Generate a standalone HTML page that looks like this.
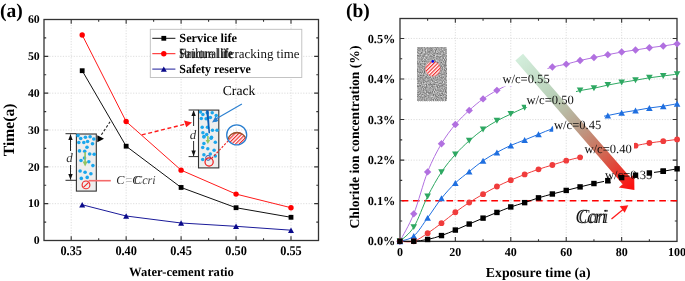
<!DOCTYPE html><html><head><meta charset="utf-8"><style>html,body{margin:0;padding:0;background:#fff;width:685px;height:281px;overflow:hidden}svg{display:block;will-change:transform;text-rendering:geometricPrecision}</style></head><body>
<svg width="685" height="281" viewBox="0 0 685 281" font-family='"Liberation Serif", serif'>
<defs><pattern id="hatch" width="2.6" height="2.6" patternUnits="userSpaceOnUse" patternTransform="rotate(-45)"><rect width="2.6" height="2.6" fill="#fff"/><rect width="2.6" height="1.2" fill="#f03030"/></pattern><filter id="noise" x="0" y="0" width="100%" height="100%" color-interpolation-filters="sRGB"><feTurbulence type="fractalNoise" baseFrequency="0.9" numOctaves="2" seed="3" result="n"/><feColorMatrix in="n" type="matrix" values="0.75 0 0 0 0.26  0.75 0 0 0 0.26  0.75 0 0 0 0.26  0 0 0 0 1"/></filter><linearGradient id="arrg" gradientUnits="userSpaceOnUse" x1="519" y1="57" x2="634" y2="190"><stop offset="0" stop-color="#d3eedc"/><stop offset="0.3" stop-color="#b9d0b8"/><stop offset="0.5" stop-color="#b9a590"/><stop offset="0.72" stop-color="#cf6a55"/><stop offset="1" stop-color="#ff0a0a"/></linearGradient><clipPath id="magc"><circle cx="236.7" cy="134.9" r="9.6"/></clipPath></defs>
<text x="0" y="17.2" font-size="19.5" font-weight="bold">(a)</text>
<line x1="71.2" y1="19.5" x2="71.2" y2="240.5" stroke="#d4d4d4" stroke-width="0.8" stroke-dasharray="1.2 1.5"/>
<line x1="126.15" y1="19.5" x2="126.15" y2="240.5" stroke="#d4d4d4" stroke-width="0.8" stroke-dasharray="1.2 1.5"/>
<line x1="181.1" y1="19.5" x2="181.1" y2="240.5" stroke="#d4d4d4" stroke-width="0.8" stroke-dasharray="1.2 1.5"/>
<line x1="236.05" y1="19.5" x2="236.05" y2="240.5" stroke="#d4d4d4" stroke-width="0.8" stroke-dasharray="1.2 1.5"/>
<line x1="291" y1="19.5" x2="291" y2="240.5" stroke="#d4d4d4" stroke-width="0.8" stroke-dasharray="1.2 1.5"/>
<line x1="44" y1="203.67" x2="318.5" y2="203.67" stroke="#d4d4d4" stroke-width="0.8" stroke-dasharray="1.2 1.5"/>
<line x1="44" y1="166.83" x2="318.5" y2="166.83" stroke="#d4d4d4" stroke-width="0.8" stroke-dasharray="1.2 1.5"/>
<line x1="44" y1="130" x2="318.5" y2="130" stroke="#d4d4d4" stroke-width="0.8" stroke-dasharray="1.2 1.5"/>
<line x1="44" y1="93.17" x2="318.5" y2="93.17" stroke="#d4d4d4" stroke-width="0.8" stroke-dasharray="1.2 1.5"/>
<line x1="44" y1="56.34" x2="318.5" y2="56.34" stroke="#d4d4d4" stroke-width="0.8" stroke-dasharray="1.2 1.5"/>
<path d="M71.2 240.5V236.2M71.2 19.5V23.8M98.68 240.5V238.3M98.68 19.5V21.7M126.15 240.5V236.2M126.15 19.5V23.8M153.63 240.5V238.3M153.63 19.5V21.7M181.1 240.5V236.2M181.1 19.5V23.8M208.58 240.5V238.3M208.58 19.5V21.7M236.05 240.5V236.2M236.05 19.5V23.8M263.53 240.5V238.3M263.53 19.5V21.7M291 240.5V236.2M291 19.5V23.8M44 222.08H46.2M318.5 222.08H316.3M44 203.67H48.3M318.5 203.67H314.2M44 185.25H46.2M318.5 185.25H316.3M44 166.83H48.3M318.5 166.83H314.2M44 148.42H46.2M318.5 148.42H316.3M44 130H48.3M318.5 130H314.2M44 111.58H46.2M318.5 111.58H316.3M44 93.17H48.3M318.5 93.17H314.2M44 74.75H46.2M318.5 74.75H316.3M44 56.34H48.3M318.5 56.34H314.2M44 37.92H46.2M318.5 37.92H316.3" stroke="#333" stroke-width="1.1" fill="none"/>
<rect x="44" y="19.5" width="274.5" height="221" fill="none" stroke="#333" stroke-width="1.3"/>
<text x="71.2" y="255.2" font-size="13.2" font-weight="bold" text-anchor="middle" textLength="21.5" lengthAdjust="spacingAndGlyphs">0.35</text>
<text x="126.15" y="255.2" font-size="13.2" font-weight="bold" text-anchor="middle" textLength="21.5" lengthAdjust="spacingAndGlyphs">0.40</text>
<text x="181.1" y="255.2" font-size="13.2" font-weight="bold" text-anchor="middle" textLength="21.5" lengthAdjust="spacingAndGlyphs">0.45</text>
<text x="236.05" y="255.2" font-size="13.2" font-weight="bold" text-anchor="middle" textLength="21.5" lengthAdjust="spacingAndGlyphs">0.50</text>
<text x="291" y="255.2" font-size="13.2" font-weight="bold" text-anchor="middle" textLength="21.5" lengthAdjust="spacingAndGlyphs">0.55</text>
<text x="39.7" y="244.2" font-size="11.8" font-weight="bold" text-anchor="end">0</text>
<text x="39.7" y="207.37" font-size="11.8" font-weight="bold" text-anchor="end">10</text>
<text x="39.7" y="170.53" font-size="11.8" font-weight="bold" text-anchor="end">20</text>
<text x="39.7" y="133.7" font-size="11.8" font-weight="bold" text-anchor="end">30</text>
<text x="39.7" y="96.87" font-size="11.8" font-weight="bold" text-anchor="end">40</text>
<text x="39.7" y="60.04" font-size="11.8" font-weight="bold" text-anchor="end">50</text>
<text x="39.7" y="23.2" font-size="11.8" font-weight="bold" text-anchor="end">60</text>
<text x="181.5" y="275.5" font-size="12.6" font-weight="bold" text-anchor="middle">Water-cement ratio</text>
<text transform="translate(14.2,129.9) rotate(-90)" font-size="15.6" font-weight="bold" text-anchor="middle">Time(a)</text>
<polyline points="82.19,70.7 126.15,146.21 181.1,187.46 236.05,207.72 291,217.3" fill="none" stroke="#111" stroke-width="1.0"/>
<polyline points="82.19,34.97 126.15,121.53 181.1,170.15 236.05,194.09 291,207.72" fill="none" stroke="#ff1a1a" stroke-width="1.0"/>
<polyline points="82.19,204.77 126.15,216.01 181.1,223 236.05,226.32 291,230.19" fill="none" stroke="#1a1a99" stroke-width="1.0"/>
<rect x="79.79" y="68.3" width="4.8" height="4.8" fill="#000"/>
<circle cx="82.19" cy="34.97" r="2.7" fill="#ff0000"/>
<path d="M79.19 207.47L85.19 207.47L82.19 202.07Z" fill="#0a0a8a"/>
<rect x="123.75" y="143.81" width="4.8" height="4.8" fill="#000"/>
<circle cx="126.15" cy="121.53" r="2.7" fill="#ff0000"/>
<path d="M123.15 218.71L129.15 218.71L126.15 213.31Z" fill="#0a0a8a"/>
<rect x="178.7" y="185.06" width="4.8" height="4.8" fill="#000"/>
<circle cx="181.1" cy="170.15" r="2.7" fill="#ff0000"/>
<path d="M178.1 225.7L184.1 225.7L181.1 220.3Z" fill="#0a0a8a"/>
<rect x="233.65" y="205.32" width="4.8" height="4.8" fill="#000"/>
<circle cx="236.05" cy="194.09" r="2.7" fill="#ff0000"/>
<path d="M233.05 229.02L239.05 229.02L236.05 223.62Z" fill="#0a0a8a"/>
<rect x="288.6" y="214.9" width="4.8" height="4.8" fill="#000"/>
<circle cx="291" cy="207.72" r="2.7" fill="#ff0000"/>
<path d="M288 232.89L294 232.89L291 227.49Z" fill="#0a0a8a"/>
<rect x="150.3" y="29.3" width="151.5" height="48.2" fill="#fff" stroke="#bdbdbd" stroke-width="0.9"/>
<line x1="152.3" y1="38.3" x2="175.4" y2="38.3" stroke="#111" stroke-width="1"/>
<rect x="161.4" y="35.9" width="4.8" height="4.8" fill="#000"/>
<line x1="152.3" y1="53.7" x2="175.4" y2="53.7" stroke="#ff1a1a" stroke-width="1"/>
<circle cx="163.8" cy="53.7" r="2.7" fill="#ff0000"/>
<line x1="152.3" y1="69.1" x2="175.4" y2="69.1" stroke="#1a1a99" stroke-width="1"/>
<path d="M160.8 71.8L166.8 71.8L163.8 66.4Z" fill="#0a0a8a"/>
<text x="179.3" y="42.2" font-size="12.3" font-weight="bold">Service life</text>
<text x="179.3" y="57.9" font-size="14" font-weight="bold" fill="#111" textLength="53" lengthAdjust="spacingAndGlyphs" opacity="0.9">Structural life</text>
<text x="179.3" y="57.9" font-size="14" fill="#111" textLength="54" lengthAdjust="spacingAndGlyphs">Failure life</text>
<text x="228.8" y="57.8" font-size="12.9" fill="#111" textLength="70.8" lengthAdjust="spacingAndGlyphs">cracking time</text>
<text x="179.3" y="73.1" font-size="12.3" font-weight="bold" textLength="71.5" lengthAdjust="spacingAndGlyphs">Safety reserve</text>
<rect x="76.4" y="134" width="19.9" height="57.1" fill="#eeeeee" stroke="#333" stroke-width="1.1"/>
<circle cx="78" cy="135.6" r="1.8" fill="#1aa6ec"/>
<circle cx="80.7" cy="138.5" r="1.8" fill="#1aa6ec"/>
<circle cx="85.4" cy="137.2" r="1.8" fill="#1aa6ec"/>
<circle cx="90.1" cy="136.8" r="1.8" fill="#1aa6ec"/>
<circle cx="93.8" cy="139" r="1.8" fill="#1aa6ec"/>
<circle cx="78.8" cy="142.5" r="1.8" fill="#1aa6ec"/>
<circle cx="83.8" cy="142.5" r="1.8" fill="#1aa6ec"/>
<circle cx="87.6" cy="141.5" r="1.8" fill="#1aa6ec"/>
<circle cx="92.5" cy="143.7" r="1.8" fill="#1aa6ec"/>
<circle cx="87" cy="147.2" r="1.8" fill="#1aa6ec"/>
<circle cx="79.5" cy="150.9" r="1.8" fill="#1aa6ec"/>
<circle cx="84.7" cy="151.2" r="1.8" fill="#1aa6ec"/>
<circle cx="89.7" cy="154" r="1.8" fill="#1aa6ec"/>
<circle cx="94.2" cy="154.3" r="1.8" fill="#1aa6ec"/>
<circle cx="84.5" cy="158" r="1.8" fill="#1aa6ec"/>
<circle cx="81" cy="160.5" r="1.8" fill="#1aa6ec"/>
<circle cx="88.8" cy="161.8" r="1.8" fill="#1aa6ec"/>
<circle cx="92.9" cy="165.6" r="1.8" fill="#1aa6ec"/>
<circle cx="80.1" cy="171" r="1.8" fill="#1aa6ec"/>
<circle cx="85.1" cy="172.2" r="1.8" fill="#1aa6ec"/>
<circle cx="90.9" cy="173.7" r="1.8" fill="#1aa6ec"/>
<circle cx="81.3" cy="178.4" r="1.8" fill="#1aa6ec"/>
<circle cx="87.2" cy="177.4" r="1.8" fill="#1aa6ec"/>
<path d="M85.1 152V163" stroke="#8fc462" stroke-width="1.6"/><path d="M82.6 161.5L87.6 161.5L85.1 166.5Z" fill="#8fc462"/>
<circle cx="86" cy="184.9" r="3.9" fill="none" stroke="#f02020" stroke-width="1.1"/><path d="M83.4 187.4L88.6 182.4" stroke="#f02020" stroke-width="1.1"/>
<path d="M88.6 180.7H110.8" stroke="#f46a6a" stroke-width="1.6"/>
<path d="M65.5 133.7H76.2M65.5 180.3H76.2M70.5 134.5V151M70.5 165V179.5" stroke="#111" stroke-width="0.9" fill="none"/>
<path d="M68.3 140L70.5 134.3L72.7 140Z M68.3 174L70.5 179.7L72.7 174Z" fill="#111"/>
<text x="69.5" y="162" font-size="13" font-style="italic" fill="#333" text-anchor="middle">d</text>
<path d="M101.4 134.8L110 121.9" stroke="#222" stroke-width="1.1" stroke-dasharray="2.6 1.8"/>
<path d="M97.3 135.3L97.3 142.2L104 138.7Z" fill="#000"/>
<text x="116.3" y="184" font-size="12.2" font-style="italic" fill="#222">C</text>
<text x="125.5" y="184" font-size="12.2" fill="#888">=</text>
<text x="132.3" y="184" font-size="12.2" font-style="italic" fill="#222">C</text>
<text x="134" y="184" font-size="12.2" font-style="italic" fill="#222" opacity="0.85">Ccri</text>
<rect x="198.5" y="110.1" width="20.3" height="57.8" fill="#eeeeee" stroke="#333" stroke-width="1.1"/>
<circle cx="200.5" cy="112" r="1.75" fill="#1aa6ec"/>
<circle cx="202.9" cy="114.6" r="1.75" fill="#1aa6ec"/>
<circle cx="207.2" cy="112.8" r="1.75" fill="#1aa6ec"/>
<circle cx="212.2" cy="112.8" r="1.75" fill="#1aa6ec"/>
<circle cx="216.2" cy="115.5" r="1.75" fill="#1aa6ec"/>
<circle cx="201.3" cy="118.4" r="1.75" fill="#1aa6ec"/>
<circle cx="206.1" cy="118.7" r="1.75" fill="#1aa6ec"/>
<circle cx="210.4" cy="117.6" r="1.75" fill="#1aa6ec"/>
<circle cx="215.7" cy="120.3" r="1.75" fill="#1aa6ec"/>
<circle cx="202.2" cy="127.2" r="1.75" fill="#1aa6ec"/>
<circle cx="207.5" cy="127.2" r="1.75" fill="#1aa6ec"/>
<circle cx="212.5" cy="130.2" r="1.75" fill="#1aa6ec"/>
<circle cx="217" cy="130.2" r="1.75" fill="#1aa6ec"/>
<circle cx="202.9" cy="132.7" r="1.75" fill="#1aa6ec"/>
<circle cx="206.7" cy="134.4" r="1.75" fill="#1aa6ec"/>
<circle cx="204" cy="136.6" r="1.75" fill="#1aa6ec"/>
<circle cx="211.5" cy="137.3" r="1.75" fill="#1aa6ec"/>
<circle cx="203.9" cy="137" r="1.75" fill="#1aa6ec"/>
<circle cx="211.1" cy="138.2" r="1.75" fill="#1aa6ec"/>
<circle cx="203.9" cy="143.5" r="1.75" fill="#1aa6ec"/>
<circle cx="215.3" cy="142.3" r="1.75" fill="#1aa6ec"/>
<circle cx="202.7" cy="147.5" r="1.75" fill="#1aa6ec"/>
<circle cx="207.8" cy="148.7" r="1.75" fill="#1aa6ec"/>
<circle cx="214.1" cy="150.3" r="1.75" fill="#1aa6ec"/>
<circle cx="203.9" cy="154.7" r="1.75" fill="#1aa6ec"/>
<circle cx="210.3" cy="154.1" r="1.75" fill="#1aa6ec"/>
<circle cx="215.3" cy="156" r="1.75" fill="#1aa6ec"/>
<circle cx="202.7" cy="159.6" r="1.75" fill="#1aa6ec"/>
<path d="M207.9 136V141" stroke="#8fc462" stroke-width="1.6"/><path d="M205.6 140L210.2 140L207.9 144Z" fill="#8fc462"/>
<path d="M206.1 110.3L208.5 110.3L210 133.3L208.6 133.3Z" fill="#0b5cb5"/>
<path d="M241.9 103.9L215 119.5" stroke="#2a7fd0" stroke-width="1.1"/><path d="M212 122.4L215.4 116.6L218.3 121Z" fill="#2a7fd0"/>
<text x="222.8" y="95.2" font-size="13.6">Crack</text>
<circle cx="208.1" cy="157.9" r="2.4" fill="none" stroke="#1a3a9a" stroke-width="0.9"/>
<circle cx="209.1" cy="162" r="4.1" fill="none" stroke="#f01818" stroke-width="1.2"/>
<path d="M211.5 158.5L229 140" stroke="#f02020" stroke-width="1.1" stroke-dasharray="2.2 1.5"/>
<g clip-path="url(#magc)"><circle cx="237" cy="141.5" r="9.6" fill="url(#hatch)"/><path d="M227.8 139.5A9.6 9.6 0 0 1 246.2 139.5" fill="none" stroke="#a0522d" stroke-width="1.6"/></g>
<circle cx="236.7" cy="134.9" r="10" fill="none" stroke="#2a7fd0" stroke-width="1.3"/>
<path d="M188.6 110H198.3M188.6 156.6H198.3M193.6 111V126M193.6 141V156" stroke="#111" stroke-width="0.9" fill="none"/>
<path d="M191.4 116L193.6 110.3L195.8 116Z M191.4 150.6L193.6 156.3L195.8 150.6Z" fill="#111"/>
<text x="193" y="138.6" font-size="13" font-style="italic" fill="#333" text-anchor="middle">d</text>
<path d="M141.8 134.9L185 124.2" stroke="#ff1a1a" stroke-width="1.4" stroke-dasharray="4 2.6"/>
<path d="M184 120.5L186.2 127.2L192 122.5Z" fill="#ff1a1a"/>
<text x="346" y="17.2" font-size="19.5" font-weight="bold">(b)</text>
<line x1="455.34" y1="18.5" x2="455.34" y2="241.4" stroke="#d4d4d4" stroke-width="0.8" stroke-dasharray="1.2 1.5"/>
<line x1="510.78" y1="18.5" x2="510.78" y2="241.4" stroke="#d4d4d4" stroke-width="0.8" stroke-dasharray="1.2 1.5"/>
<line x1="566.22" y1="18.5" x2="566.22" y2="241.4" stroke="#d4d4d4" stroke-width="0.8" stroke-dasharray="1.2 1.5"/>
<line x1="621.66" y1="18.5" x2="621.66" y2="241.4" stroke="#d4d4d4" stroke-width="0.8" stroke-dasharray="1.2 1.5"/>
<line x1="400" y1="200.69" x2="677" y2="200.69" stroke="#d4d4d4" stroke-width="0.8" stroke-dasharray="1.2 1.5"/>
<line x1="400" y1="160.13" x2="677" y2="160.13" stroke="#d4d4d4" stroke-width="0.8" stroke-dasharray="1.2 1.5"/>
<line x1="400" y1="119.57" x2="677" y2="119.57" stroke="#d4d4d4" stroke-width="0.8" stroke-dasharray="1.2 1.5"/>
<line x1="400" y1="79.01" x2="677" y2="79.01" stroke="#d4d4d4" stroke-width="0.8" stroke-dasharray="1.2 1.5"/>
<line x1="400" y1="38.45" x2="677" y2="38.45" stroke="#d4d4d4" stroke-width="0.8" stroke-dasharray="1.2 1.5"/>
<path d="M427.62 241.4V239.2M427.62 18.5V20.7M455.34 241.4V237.1M455.34 18.5V22.8M483.06 241.4V239.2M483.06 18.5V20.7M510.78 241.4V237.1M510.78 18.5V22.8M538.5 241.4V239.2M538.5 18.5V20.7M566.22 241.4V237.1M566.22 18.5V22.8M593.94 241.4V239.2M593.94 18.5V20.7M621.66 241.4V237.1M621.66 18.5V22.8M649.38 241.4V239.2M649.38 18.5V20.7M400 220.97H402.2M677 220.97H674.8M400 200.69H404.3M677 200.69H672.7M400 180.41H402.2M677 180.41H674.8M400 160.13H404.3M677 160.13H672.7M400 139.85H402.2M677 139.85H674.8M400 119.57H404.3M677 119.57H672.7M400 99.29H402.2M677 99.29H674.8M400 79.01H404.3M677 79.01H672.7M400 58.73H402.2M677 58.73H674.8M400 38.45H404.3M677 38.45H672.7" stroke="#333" stroke-width="1.1" fill="none"/>
<rect x="400" y="18.5" width="277" height="222.9" fill="none" stroke="#333" stroke-width="1.3"/>
<text x="399.9" y="255.6" font-size="12" font-weight="bold" text-anchor="middle">0</text>
<text x="455.34" y="255.6" font-size="12" font-weight="bold" text-anchor="middle">20</text>
<text x="510.78" y="255.6" font-size="12" font-weight="bold" text-anchor="middle">40</text>
<text x="566.22" y="255.6" font-size="12" font-weight="bold" text-anchor="middle">60</text>
<text x="621.66" y="255.6" font-size="12" font-weight="bold" text-anchor="middle">80</text>
<text x="677.1" y="255.6" font-size="12" font-weight="bold" text-anchor="middle">100</text>
<text x="395.4" y="245.35" font-size="12.3" font-weight="bold" text-anchor="end">0.0%</text>
<text x="395.4" y="204.79" font-size="12.3" font-weight="bold" text-anchor="end">0.1%</text>
<text x="395.4" y="164.23" font-size="12.3" font-weight="bold" text-anchor="end">0.2%</text>
<text x="395.4" y="123.67" font-size="12.3" font-weight="bold" text-anchor="end">0.3%</text>
<text x="395.4" y="83.11" font-size="12.3" font-weight="bold" text-anchor="end">0.4%</text>
<text x="395.4" y="42.55" font-size="12.3" font-weight="bold" text-anchor="end">0.5%</text>
<text x="538.2" y="277" font-size="13.8" font-weight="bold" text-anchor="middle">Exposure time (a)</text>
<text transform="translate(359.3,137) rotate(-90)" font-size="13.65" font-weight="bold" text-anchor="middle">Chloride ion concentration (%)</text>
<rect x="417.7" y="47" width="28.4" height="53.2" fill="#9c9c9c"/>
<rect x="417.7" y="47" width="28.4" height="53.2" filter="url(#noise)"/>
<path d="M418 101.3H446" stroke="#bbb" stroke-width="0.8" stroke-dasharray="1 1.2"/>
<circle cx="432.9" cy="68.8" r="7.4" fill="url(#hatch)"/><circle cx="432.9" cy="68.8" r="7.4" fill="none" stroke="#f06060" stroke-width="0.4"/>
<circle cx="432.8" cy="61.4" r="1.3" fill="#0000ee"/>
<path d="M400 200.69H677" stroke="#ff0000" stroke-width="1.6" stroke-dasharray="6.6 4.6" stroke-dashoffset="-1.7"/>
<path d="M399.9 241.25C402.21 236.68 409.14 225.39 413.76 213.83C418.38 202.27 423 183.58 427.62 171.89C432.24 160.2 436.86 151.61 441.48 143.7C446.1 135.79 450.72 129.99 455.34 124.44C459.96 118.89 464.58 114.66 469.2 110.4C473.82 106.14 478.44 102.22 483.06 98.88C487.68 95.54 492.3 92.94 496.92 90.37C501.54 87.8 506.16 85.63 510.78 83.47C515.4 81.31 520.02 79.35 524.64 77.39C529.26 75.43 533.88 73.43 538.5 71.71C543.12 69.99 547.74 68.3 552.36 67.04C556.98 65.79 561.6 65.26 566.22 64.17C570.84 63.07 575.46 61.58 580.08 60.47C584.7 59.37 589.32 58.52 593.94 57.55C598.56 56.59 603.18 55.59 607.8 54.67C612.42 53.75 617.04 52.82 621.66 52.04C626.28 51.25 630.9 50.68 635.52 49.97C640.14 49.26 644.76 48.45 649.38 47.78C654 47.11 658.62 46.61 663.24 45.95C667.86 45.3 674.79 44.2 677.1 43.84" fill="none" stroke="#b170e0" stroke-width="1.0"/>
<path d="M399.9 241.25C402.21 238.9 409.14 234.6 413.76 227.14C418.38 219.67 423 205.6 427.62 196.43C432.24 187.26 436.86 179.09 441.48 172.1C446.1 165.11 450.72 159.71 455.34 154.49C459.96 149.27 464.58 144.95 469.2 140.78C473.82 136.62 478.44 132.84 483.06 129.51C487.68 126.17 492.3 123.36 496.92 120.79C501.54 118.22 506.16 116.28 510.78 114.09C515.4 111.91 520.02 109.61 524.64 107.69C529.26 105.76 533.88 104.14 538.5 102.53C543.12 100.93 547.74 99.46 552.36 98.07C556.98 96.69 561.6 95.47 566.22 94.22C570.84 92.97 575.46 91.57 580.08 90.57C584.7 89.57 589.32 89.13 593.94 88.22C598.56 87.3 603.18 86.05 607.8 85.09C612.42 84.13 617.04 83.27 621.66 82.46C626.28 81.65 630.9 81 635.52 80.23C640.14 79.45 644.76 78.5 649.38 77.79C654 77.08 658.62 76.58 663.24 75.97C667.86 75.36 674.79 74.45 677.1 74.14" fill="none" stroke="#2ea862" stroke-width="1.0"/>
<path d="M399.9 241.25C402.21 240.38 409.14 239.96 413.76 236.06C418.38 232.16 423 224.13 427.62 217.85C432.24 211.56 436.86 204.14 441.48 198.34C446.1 192.53 450.72 187.46 455.34 183.01C459.96 178.55 464.58 175.33 469.2 171.61C473.82 167.89 478.44 163.9 483.06 160.7C487.68 157.5 492.3 154.97 496.92 152.42C501.54 149.88 506.16 147.48 510.78 145.41C515.4 143.34 520.02 141.86 524.64 140.01C529.26 138.16 533.88 136.18 538.5 134.29C543.12 132.41 547.74 130.34 552.36 128.7C556.98 127.05 561.6 125.76 566.22 124.44C570.84 123.12 575.46 121.87 580.08 120.79C584.7 119.71 589.32 118.83 593.94 117.95C598.56 117.07 603.18 116.39 607.8 115.51C612.42 114.64 617.04 113.52 621.66 112.67C626.28 111.83 630.9 111.23 635.52 110.44C640.14 109.66 644.76 108.68 649.38 107.97C654 107.26 658.62 106.89 663.24 106.19C667.86 105.48 674.79 104.16 677.1 103.75" fill="none" stroke="#1f6fe0" stroke-width="1.0"/>
<path d="M399.9 241.25C402.21 241.25 409.14 242.58 413.76 241.25C418.38 239.92 423 236.27 427.62 233.26C432.24 230.24 436.86 226.66 441.48 223.16C446.1 219.66 450.72 215.69 455.34 212.25C459.96 208.81 464.58 205.52 469.2 202.52C473.82 199.51 478.44 196.87 483.06 194.2C487.68 191.53 492.3 188.84 496.92 186.49C501.54 184.15 506.16 182.14 510.78 180.13C515.4 178.11 520.02 176.21 524.64 174.41C529.26 172.6 533.88 170.86 538.5 169.3C543.12 167.73 547.74 166.43 552.36 165C556.98 163.56 561.6 161.98 566.22 160.7C570.84 159.41 575.46 158.4 580.08 157.29C584.7 156.18 589.32 155.06 593.94 154.05C598.56 153.03 603.18 152.15 607.8 151.21C612.42 150.26 617.04 149.29 621.66 148.37C626.28 147.45 630.9 146.58 635.52 145.69C640.14 144.8 644.76 143.76 649.38 143.01C654 142.26 658.62 141.79 663.24 141.19C667.86 140.59 674.79 139.7 677.1 139.4" fill="none" stroke="#f03c3c" stroke-width="1.0"/>
<path d="M399.9 241.25C402.21 241.25 409.14 241.55 413.76 241.25C418.38 240.95 423 240.41 427.62 239.47C432.24 238.52 436.86 237.14 441.48 235.57C446.1 234 450.72 231.98 455.34 230.06C459.96 228.14 464.58 226.04 469.2 224.05C473.82 222.07 478.44 220.06 483.06 218.13C487.68 216.2 492.3 214.32 496.92 212.45C501.54 210.59 506.16 208.57 510.78 206.94C515.4 205.3 520.02 204.15 524.64 202.64C529.26 201.12 533.88 199.29 538.5 197.85C543.12 196.41 547.74 195.23 552.36 194C556.98 192.76 561.6 191.61 566.22 190.43C570.84 189.25 575.46 188.05 580.08 186.9C584.7 185.75 589.32 184.58 593.94 183.53C598.56 182.49 603.18 181.61 607.8 180.61C612.42 179.62 617.04 178.47 621.66 177.57C626.28 176.67 630.9 175.98 635.52 175.22C640.14 174.46 644.76 173.7 649.38 173.03C654 172.36 658.62 171.91 663.24 171.2C667.86 170.5 674.79 169.21 677.1 168.81" fill="none" stroke="#000" stroke-width="1.0"/>
<path d="M399.9 237.55L403.6 241.25L399.9 244.95L396.2 241.25Z" fill="#b170e0"/>
<path d="M396.6 238.28L403.2 238.28L399.9 244.22Z" fill="#2ea862"/>
<path d="M396.6 244.22L403.2 244.22L399.9 238.28Z" fill="#1f6fe0"/>
<circle cx="399.9" cy="241.25" r="2.9" fill="#f03c3c"/>
<rect x="397.2" y="238.55" width="5.4" height="5.4" fill="#000"/>
<path d="M413.76 210.13L417.46 213.83L413.76 217.53L410.06 213.83Z" fill="#b170e0"/>
<path d="M410.46 224.17L417.06 224.17L413.76 230.11Z" fill="#2ea862"/>
<path d="M410.46 239.03L417.06 239.03L413.76 233.09Z" fill="#1f6fe0"/>
<circle cx="413.76" cy="241.25" r="2.9" fill="#f03c3c"/>
<rect x="411.06" y="238.55" width="5.4" height="5.4" fill="#000"/>
<path d="M427.62 168.19L431.32 171.89L427.62 175.59L423.92 171.89Z" fill="#b170e0"/>
<path d="M424.32 193.46L430.92 193.46L427.62 199.4Z" fill="#2ea862"/>
<path d="M424.32 220.82L430.92 220.82L427.62 214.88Z" fill="#1f6fe0"/>
<circle cx="427.62" cy="233.26" r="2.9" fill="#f03c3c"/>
<rect x="424.92" y="236.77" width="5.4" height="5.4" fill="#000"/>
<path d="M441.48 140L445.18 143.7L441.48 147.4L437.78 143.7Z" fill="#b170e0"/>
<path d="M438.18 169.13L444.78 169.13L441.48 175.07Z" fill="#2ea862"/>
<path d="M438.18 201.31L444.78 201.31L441.48 195.37Z" fill="#1f6fe0"/>
<circle cx="441.48" cy="223.16" r="2.9" fill="#f03c3c"/>
<rect x="438.78" y="232.87" width="5.4" height="5.4" fill="#000"/>
<path d="M455.34 120.74L459.04 124.44L455.34 128.14L451.64 124.44Z" fill="#b170e0"/>
<path d="M452.04 151.52L458.64 151.52L455.34 157.46Z" fill="#2ea862"/>
<path d="M452.04 185.98L458.64 185.98L455.34 180.04Z" fill="#1f6fe0"/>
<circle cx="455.34" cy="212.25" r="2.9" fill="#f03c3c"/>
<rect x="452.64" y="227.36" width="5.4" height="5.4" fill="#000"/>
<path d="M469.2 106.7L472.9 110.4L469.2 114.1L465.5 110.4Z" fill="#b170e0"/>
<path d="M465.9 137.81L472.5 137.81L469.2 143.75Z" fill="#2ea862"/>
<path d="M465.9 174.58L472.5 174.58L469.2 168.64Z" fill="#1f6fe0"/>
<circle cx="469.2" cy="202.52" r="2.9" fill="#f03c3c"/>
<rect x="466.5" y="221.35" width="5.4" height="5.4" fill="#000"/>
<path d="M483.06 95.18L486.76 98.88L483.06 102.58L479.36 98.88Z" fill="#b170e0"/>
<path d="M479.76 126.54L486.36 126.54L483.06 132.48Z" fill="#2ea862"/>
<path d="M479.76 163.67L486.36 163.67L483.06 157.73Z" fill="#1f6fe0"/>
<circle cx="483.06" cy="194.2" r="2.9" fill="#f03c3c"/>
<rect x="480.36" y="215.43" width="5.4" height="5.4" fill="#000"/>
<path d="M496.92 86.67L500.62 90.37L496.92 94.07L493.22 90.37Z" fill="#b170e0"/>
<path d="M493.62 117.82L500.22 117.82L496.92 123.76Z" fill="#2ea862"/>
<path d="M493.62 155.39L500.22 155.39L496.92 149.45Z" fill="#1f6fe0"/>
<circle cx="496.92" cy="186.49" r="2.9" fill="#f03c3c"/>
<rect x="494.22" y="209.75" width="5.4" height="5.4" fill="#000"/>
<path d="M510.78 79.77L514.48 83.47L510.78 87.17L507.08 83.47Z" fill="#b170e0"/>
<path d="M507.48 111.12L514.08 111.12L510.78 117.06Z" fill="#2ea862"/>
<path d="M507.48 148.38L514.08 148.38L510.78 142.44Z" fill="#1f6fe0"/>
<circle cx="510.78" cy="180.13" r="2.9" fill="#f03c3c"/>
<rect x="508.08" y="204.24" width="5.4" height="5.4" fill="#000"/>
<path d="M524.64 73.69L528.34 77.39L524.64 81.09L520.94 77.39Z" fill="#b170e0"/>
<path d="M521.34 104.72L527.94 104.72L524.64 110.66Z" fill="#2ea862"/>
<path d="M521.34 142.98L527.94 142.98L524.64 137.04Z" fill="#1f6fe0"/>
<circle cx="524.64" cy="174.41" r="2.9" fill="#f03c3c"/>
<rect x="521.94" y="199.94" width="5.4" height="5.4" fill="#000"/>
<path d="M538.5 68.01L542.2 71.71L538.5 75.41L534.8 71.71Z" fill="#b170e0"/>
<path d="M535.2 99.56L541.8 99.56L538.5 105.5Z" fill="#2ea862"/>
<path d="M535.2 137.26L541.8 137.26L538.5 131.32Z" fill="#1f6fe0"/>
<circle cx="538.5" cy="169.3" r="2.9" fill="#f03c3c"/>
<rect x="535.8" y="195.15" width="5.4" height="5.4" fill="#000"/>
<path d="M552.36 63.34L556.06 67.04L552.36 70.74L548.66 67.04Z" fill="#b170e0"/>
<path d="M549.06 95.1L555.66 95.1L552.36 101.04Z" fill="#2ea862"/>
<path d="M549.06 131.67L555.66 131.67L552.36 125.73Z" fill="#1f6fe0"/>
<circle cx="552.36" cy="165" r="2.9" fill="#f03c3c"/>
<rect x="549.66" y="191.3" width="5.4" height="5.4" fill="#000"/>
<path d="M566.22 60.47L569.92 64.17L566.22 67.87L562.52 64.17Z" fill="#b170e0"/>
<path d="M562.92 91.25L569.52 91.25L566.22 97.19Z" fill="#2ea862"/>
<path d="M562.92 127.41L569.52 127.41L566.22 121.47Z" fill="#1f6fe0"/>
<circle cx="566.22" cy="160.7" r="2.9" fill="#f03c3c"/>
<rect x="563.52" y="187.73" width="5.4" height="5.4" fill="#000"/>
<path d="M580.08 56.77L583.78 60.47L580.08 64.17L576.38 60.47Z" fill="#b170e0"/>
<path d="M576.78 87.6L583.38 87.6L580.08 93.54Z" fill="#2ea862"/>
<path d="M576.78 123.76L583.38 123.76L580.08 117.82Z" fill="#1f6fe0"/>
<circle cx="580.08" cy="157.29" r="2.9" fill="#f03c3c"/>
<rect x="577.38" y="184.2" width="5.4" height="5.4" fill="#000"/>
<path d="M593.94 53.85L597.64 57.55L593.94 61.25L590.24 57.55Z" fill="#b170e0"/>
<path d="M590.64 85.25L597.24 85.25L593.94 91.19Z" fill="#2ea862"/>
<path d="M590.64 120.92L597.24 120.92L593.94 114.98Z" fill="#1f6fe0"/>
<circle cx="593.94" cy="154.05" r="2.9" fill="#f03c3c"/>
<rect x="591.24" y="180.83" width="5.4" height="5.4" fill="#000"/>
<path d="M607.8 50.97L611.5 54.67L607.8 58.37L604.1 54.67Z" fill="#b170e0"/>
<path d="M604.5 82.12L611.1 82.12L607.8 88.06Z" fill="#2ea862"/>
<path d="M604.5 118.48L611.1 118.48L607.8 112.54Z" fill="#1f6fe0"/>
<circle cx="607.8" cy="151.21" r="2.9" fill="#f03c3c"/>
<rect x="605.1" y="177.91" width="5.4" height="5.4" fill="#000"/>
<path d="M621.66 48.34L625.36 52.04L621.66 55.74L617.96 52.04Z" fill="#b170e0"/>
<path d="M618.36 79.49L624.96 79.49L621.66 85.43Z" fill="#2ea862"/>
<path d="M618.36 115.64L624.96 115.64L621.66 109.7Z" fill="#1f6fe0"/>
<circle cx="621.66" cy="148.37" r="2.9" fill="#f03c3c"/>
<rect x="618.96" y="174.87" width="5.4" height="5.4" fill="#000"/>
<path d="M635.52 46.27L639.22 49.97L635.52 53.67L631.82 49.97Z" fill="#b170e0"/>
<path d="M632.22 77.26L638.82 77.26L635.52 83.2Z" fill="#2ea862"/>
<path d="M632.22 113.41L638.82 113.41L635.52 107.47Z" fill="#1f6fe0"/>
<circle cx="635.52" cy="145.69" r="2.9" fill="#f03c3c"/>
<rect x="632.82" y="172.52" width="5.4" height="5.4" fill="#000"/>
<path d="M649.38 44.08L653.08 47.78L649.38 51.48L645.68 47.78Z" fill="#b170e0"/>
<path d="M646.08 74.82L652.68 74.82L649.38 80.76Z" fill="#2ea862"/>
<path d="M646.08 110.94L652.68 110.94L649.38 105Z" fill="#1f6fe0"/>
<circle cx="649.38" cy="143.01" r="2.9" fill="#f03c3c"/>
<rect x="646.68" y="170.33" width="5.4" height="5.4" fill="#000"/>
<path d="M663.24 42.25L666.94 45.95L663.24 49.65L659.54 45.95Z" fill="#b170e0"/>
<path d="M659.94 73L666.54 73L663.24 78.94Z" fill="#2ea862"/>
<path d="M659.94 109.16L666.54 109.16L663.24 103.22Z" fill="#1f6fe0"/>
<circle cx="663.24" cy="141.19" r="2.9" fill="#f03c3c"/>
<rect x="660.54" y="168.5" width="5.4" height="5.4" fill="#000"/>
<path d="M677.1 40.14L680.8 43.84L677.1 47.54L673.4 43.84Z" fill="#b170e0"/>
<path d="M673.8 71.17L680.4 71.17L677.1 77.11Z" fill="#2ea862"/>
<path d="M673.8 106.72L680.4 106.72L677.1 100.78Z" fill="#1f6fe0"/>
<circle cx="677.1" cy="139.4" r="2.9" fill="#f03c3c"/>
<rect x="674.4" y="166.11" width="5.4" height="5.4" fill="#000"/>
<rect x="501" y="68" width="46.5" height="18.5" fill="#fff"/>
<rect x="526" y="90" width="50" height="17" fill="#fff"/>
<rect x="553.2" y="115" width="50.8" height="17" fill="#fff"/>
<rect x="583" y="138.6" width="51" height="20" fill="#fff"/>
<rect x="604" y="166" width="50" height="16" fill="#fff"/>
<path d="M515.35 60.54L622.68 184.28L618.83 187.62L634.4 190L634.24 174.25L630.39 177.59L523.05 53.86Z" fill="url(#arrg)"/>
<text x="502.4" y="82.8" font-size="12.6" fill="#111">w/c=0.55</text>
<text x="526.5" y="104" font-size="12.6" fill="#111">w/c=0.50</text>
<text x="554" y="129.1" font-size="12.6" fill="#111">w/c=0.45</text>
<text x="584.5" y="152.6" font-size="12.6" fill="#111">w/c=0.40</text>
<text x="605" y="179" font-size="12.6" fill="#111">w/c=0.35</text>
<rect x="605.1" y="177.91" width="5.4" height="5.4" fill="#000"/>
<rect x="618.96" y="174.87" width="5.4" height="5.4" fill="#000"/>
<rect x="632.82" y="172.52" width="5.4" height="5.4" fill="#000"/>
<rect x="646.68" y="170.33" width="5.4" height="5.4" fill="#000"/>
<rect x="660.54" y="168.5" width="5.4" height="5.4" fill="#000"/>
<text x="575.6" y="223.2" font-size="20" font-style="italic" fill="#111" textLength="31" lengthAdjust="spacingAndGlyphs">Ccri</text>
<text x="578.4" y="223.2" font-size="20" font-style="italic" fill="#111" opacity="0.85" textLength="30" lengthAdjust="spacingAndGlyphs">Cari</text>
<path d="M611.5 219L623 209.6" stroke="#ff1a1a" stroke-width="1.3"/><path d="M619.7 206.3L628.3 205.3L624.7 212.8Z" fill="#ff1a1a"/>
</svg></body></html>
